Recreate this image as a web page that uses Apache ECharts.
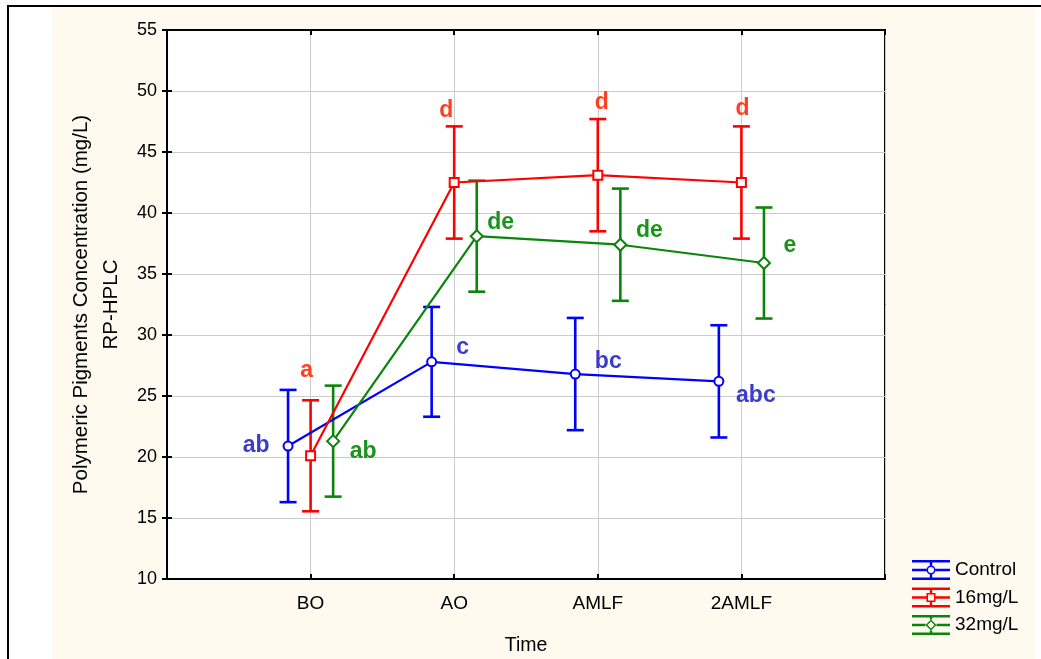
<!DOCTYPE html>
<html>
<head>
<meta charset="utf-8">
<script src="https://cdn.jsdelivr.net/npm/echarts@6/dist/echarts.min.js"></script>
<style>
  html, body { margin: 0; padding: 0; background: #fff; overflow: hidden; width: 1041px; height: 659px; }
  #frame { position: absolute; left: 7px; top: 5px; right: 0; bottom: 0; border-left: 2px solid #000; border-top: 2px solid #000; }
  #paper { position: absolute; left: 52px; top: 7px; width: 983px; height: 652px; background: #fffaf0; }
  #chart { position: absolute; left: 0; top: 0; width: 1041px; height: 659px; }
</style>
</head>
<body>
<div id="frame"></div>
<div id="paper"></div>
<div id="chart"></div>
<script>
// x positions 1..4 are the sampling times, 0 and 5 are empty margins
const categories = ['', 'BO', 'AO', 'AMLF', '2AMLF', ''];
const timeIndex = [1, 2, 3, 4];

const controlMean = [20.9, 27.8, 26.8, 26.2];
const controlErr = [4.6, 4.5, 4.6, 4.6];
const controlLetters = ['ab', 'c', 'bc', 'abc'];

const mg16Mean = [20.1, 42.5, 43.1, 42.5];
const mg16Err = [4.55, 4.6, 4.6, 4.6];
const mg16Letters = ['a', 'd', 'd', 'd'];

const mg32Mean = [21.3, 38.1, 37.4, 35.9];
const mg32Err = [4.55, 4.55, 4.6, 4.55];
const mg32Letters = ['ab', 'de', 'de', 'e'];

const yTicks = { min: 10, max: 55, interval: 5 };

const FONT = 'Liberation Sans, Arial, sans-serif';

// legend icons: error bar with marker in the middle (38 x 20)
const barsCut = (a, b) =>
  'M0 0H38V2.4H0Z M0 17.6H38V20H0Z ' +
  'M0 8.8H' + a + 'V11.2H0Z M' + b + ' 8.8H38V11.2H' + b + 'Z ' +
  'M17.8 0H20.2V' + (10 - (b - 19)) + 'H17.8Z M17.8 ' + (10 + (b - 19)) + 'H20.2V20H17.8Z ';
const iconCircle = 'path://' + barsCut(14.5, 23.5) +
  'M23.5 10A4.5 4.5 0 1 1 14.5 10A4.5 4.5 0 1 1 23.5 10Z M22 10A3 3 0 1 0 16 10A3 3 0 1 0 22 10Z';
const iconRect = 'path://' + barsCut(14.5, 23.5) +
  'M14.5 5.5H23.5V14.5H14.5Z M16 7V13H22V7Z';
const iconDiamond = 'path://' + barsCut(13.5, 24.5) +
  'M19 4.5L24.5 10L19 15.5L13.5 10Z M19 6.5L15.5 10L19 13.5L22.5 10Z';

function lineSeries(name, mean, letters, shift, color, labelColor, symbol, size, offsets) {
  return {
    name: name,
    type: 'line',
    symbol: symbol,
    symbolSize: size,
    z: 3,
    lineStyle: { color: color, width: 2.2 },
    itemStyle: { color: color, borderWidth: 1.2 },
    data: mean.map((m, i) => ({
      value: [timeIndex[i] + shift, m],
      label: {
        show: true,
        position: 'inside',
        offset: offsets[i],
        formatter: letters[i],
        color: labelColor,
        fontSize: 23,
        fontWeight: 'bold',
        fontFamily: FONT
      }
    }))
  };
}

function errorSeries(mean, err, shift, color) {
  return {
    type: 'custom',
    z: 2,
    encode: { x: 0, y: [1, 2] },
    data: mean.map((m, i) => [timeIndex[i] + shift, m - err[i], m + err[i]]),
    renderItem: function (params, api) {
      const lo = api.coord([api.value(0), api.value(1)]);
      const hi = api.coord([api.value(0), api.value(2)]);
      const w = 8.5;
      const st = { stroke: color, lineWidth: 2.6 };
      return {
        type: 'group',
        children: [
          { type: 'line', shape: { x1: hi[0], y1: hi[1], x2: lo[0], y2: lo[1] }, style: st },
          { type: 'line', shape: { x1: hi[0] - w, y1: hi[1], x2: hi[0] + w, y2: hi[1] }, style: st },
          { type: 'line', shape: { x1: lo[0] - w, y1: lo[1], x2: lo[0] + w, y2: lo[1] }, style: st }
        ]
      };
    }
  };
}

const SHIFT = 0.157;
const BLUE = '#0000ff', RED = '#ff0000', GREEN = '#0a850a';

// ticks point into the plot on all four sides
const tick = { show: true, inside: true, length: 5, lineStyle: { color: '#000', width: 2 } };
const axisLine = { show: true, lineStyle: { color: '#000', width: 2 } };

const chart = echarts.init(document.getElementById('chart'));
const option = {
  animation: false,
  grid: {
    left: 167, right: 156, top: 30, bottom: 80,
    outerBoundsMode: 'none',
    show: true, backgroundColor: '#fff', borderColor: '#000', borderWidth: 2
  },
  legend: {
    orient: 'vertical',
    left: 907, top: 555,
    itemWidth: 38, itemHeight: 20, itemGap: 7.5,
    textStyle: { color: '#000', fontSize: 19, fontFamily: FONT },
    data: [
      { name: 'Control', icon: iconCircle, itemStyle: { color: BLUE, borderWidth: 0 } },
      { name: '16mg/L', icon: iconRect, itemStyle: { color: RED, borderWidth: 0 } },
      { name: '32mg/L', icon: iconDiamond, itemStyle: { color: GREEN, borderWidth: 0 } }
    ]
  },
  xAxis: [
    {
      type: 'value', min: 0, max: 5, interval: 1,
      name: 'Time', nameLocation: 'middle', nameGap: 57,
      nameTextStyle: { color: '#000', fontSize: 19.5, fontFamily: FONT },
      axisLine: axisLine,
      axisTick: tick,
      axisLabel: {
        margin: 15, color: '#000', fontSize: 19, fontFamily: FONT,
        formatter: v => categories[v] || ''
      },
      splitLine: { show: true, lineStyle: { color: '#cccccc', width: 1 } }
    },
    {
      type: 'value', position: 'top', min: 0, max: 5, interval: 1,
      axisLine: axisLine,
      axisTick: tick,
      axisLabel: { show: false },
      splitLine: { show: false }
    }
  ],
  yAxis: [
    {
      type: 'value', min: yTicks.min, max: yTicks.max, interval: yTicks.interval,
      name: 'Polymeric Pigments Concentration (mg/L)\nRP-HPLC',
      nameLocation: 'middle', nameGap: 40, nameRotate: 90,
      nameTextStyle: { color: '#000', fontSize: 20.5, lineHeight: 30, fontFamily: FONT, align: 'center' },
      axisLine: axisLine,
      axisTick: tick,
      axisLabel: { margin: 10, color: '#000', fontSize: 18, fontFamily: FONT },
      splitLine: { show: true, lineStyle: { color: '#cccccc', width: 1 } }
    },
    {
      type: 'value', position: 'right', min: yTicks.min, max: yTicks.max, interval: yTicks.interval,
      axisLine: axisLine,
      axisTick: tick,
      axisLabel: { show: false },
      splitLine: { show: false }
    }
  ],
  series: [
    errorSeries(controlMean, controlErr, -SHIFT, BLUE),
    errorSeries(mg16Mean, mg16Err, 0, RED),
    errorSeries(mg32Mean, mg32Err, SHIFT, GREEN),
    lineSeries('Control', controlMean, controlLetters, -SHIFT, BLUE, '#3b3bcc', 'emptyCircle', 9,
      [[-32, 0], [31, -14], [33, -12], [37, 14]]),
    lineSeries('16mg/L', mg16Mean, mg16Letters, 0, RED, '#ff4020', 'emptyRect', 9,
      [[-4, -85], [-8, -72], [4, -73], [1, -74]]),
    lineSeries('32mg/L', mg32Mean, mg32Letters, SHIFT, GREEN, '#1a931a', 'emptyDiamond', 12,
      [[30, 11], [24, -14], [29, -14], [26, -17]])
  ]
};
option && chart.setOption(option);
</script>
</body>
</html>
